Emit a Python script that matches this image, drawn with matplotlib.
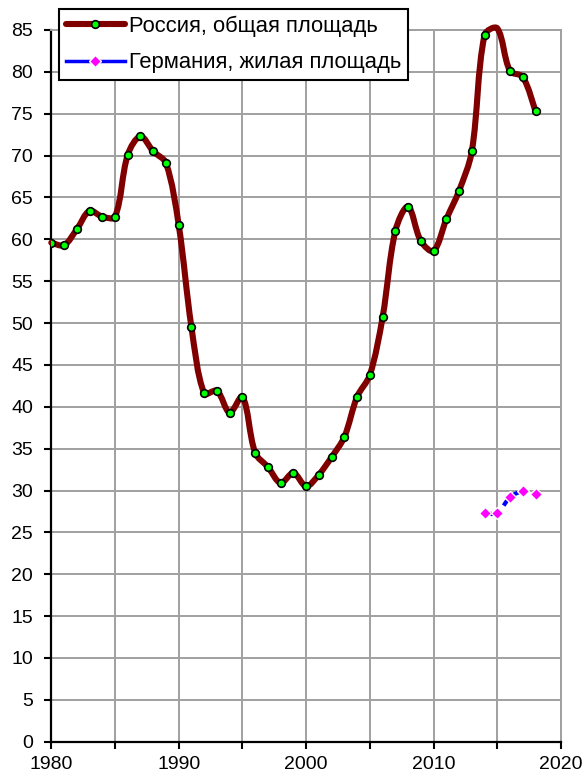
import numpy as np
import matplotlib.pyplot as plt
from matplotlib.path import Path
from matplotlib.patches import PathPatch
from matplotlib.lines import Line2D
from matplotlib.ticker import MultipleLocator

plt.rcParams['font.family'] = ['Liberation Sans', 'DejaVu Sans']

# ---- data ----
ru_years = list(range(1980, 2019))
ru_values = [59.6, 59.3, 61.2, 63.4, 62.7, 62.7, 70.1, 72.3, 70.5, 69.1,
             61.7, 49.5, 41.6, 41.9, 39.3, 41.2, 34.5, 32.8, 30.9, 32.1,
             30.5, 31.9, 34.0, 36.4, 41.2, 43.8, 50.7, 61.0, 63.9, 59.8,
             58.6, 62.4, 65.8, 70.5, 84.4, 85.2, 80.1, 79.4, 75.3]

de_years = [2014, 2015, 2016, 2017, 2018]
de_values = [27.3, 27.3, 29.2, 29.9, 29.6]

ru_label = "Россия, общая площадь"
de_label = "Германия, жилая площадь"

x_ticks = [1980, 1990, 2000, 2010, 2020]
y_ticks = list(range(0, 90, 5))


def smooth_path(ax, x, y):
    # smoothed line like Excel: Bezier handles scaled by neighbouring segment lengths on screen
    pts = np.column_stack([np.asarray(x, float), np.asarray(y, float)])
    scr = ax.transData.transform(pts)
    n = len(pts)
    d = np.hypot(*np.diff(scr, axis=0).T)
    verts = [pts[0]]
    codes = [Path.MOVETO]
    for i in range(n - 1):
        p0 = pts[max(i - 1, 0)]
        p1 = pts[i]
        p2 = pts[i + 1]
        p3 = pts[min(i + 2, n - 1)]
        d01 = d[i - 1] if i > 0 else d[i]
        d12 = d[i]
        d23 = d[i + 1] if i + 1 < n - 1 else d[i]
        c1 = p1 + (p2 - p0) * d12 / (d01 + d12) / 3
        c2 = p2 - (p3 - p1) * d12 / (d12 + d23) / 3
        verts += [c1, c2, p2]
        codes += [Path.CURVE4] * 3
    return Path(verts, codes)


fig = plt.figure(figsize=(5.85, 7.78), dpi=100)
ax = fig.add_axes([51.3 / 585, 1 - 741.7 / 778, (561 - 51.3) / 585, (741.7 - 30) / 778])

ax.set_xlim(1980, 2020)
ax.set_ylim(0, 85)
ax.xaxis.set_major_locator(MultipleLocator(10))
ax.xaxis.set_minor_locator(MultipleLocator(5))
ax.set_yticks(y_ticks)
ax.set_xticks(x_ticks)

grid_col = '#a0a0a0'
ax.grid(True, which='both', color=grid_col, linewidth=1.4, zorder=0)
ax.set_axisbelow(True)
for s in ['top', 'right']:
    ax.spines[s].set_color(grid_col)
    ax.spines[s].set_linewidth(1.4)
for s in ['left', 'bottom']:
    ax.spines[s].set_color('black')
    ax.spines[s].set_linewidth(1.6)
ax.tick_params(which='both', direction='out', length=5, width=1.5, colors='black')
ax.tick_params(axis='both', labelsize=14)
ax.tick_params(axis='y', pad=8)
ax.tick_params(axis='x', pad=5)

# Russia (markers above the axis max are not drawn)
ru_col = '#800000'
ax.add_patch(PathPatch(smooth_path(ax, ru_years, ru_values), fill=False, edgecolor=ru_col,
                       linewidth=4.4, capstyle='round', joinstyle='round',
                       transform=ax.transData, clip_on=False, zorder=3))
ru_marks = np.ma.masked_greater(np.array(ru_values), 85)
ax.plot(ru_years, ru_marks, linestyle='none', marker='o', markersize=5.5,
        markerfacecolor='#00ff00', markeredgecolor='black', markeredgewidth=1.2, zorder=4)

# Germany
de_col = '#0000ff'
ax.add_patch(PathPatch(smooth_path(ax, de_years, de_values), fill=False, edgecolor=de_col,
                       linewidth=3.0, linestyle=(0, (4, 1.5, 1.5, 1.5)),
                       transform=ax.transData, zorder=3))
ax.plot(de_years, de_values, linestyle='none', marker='D', markersize=6.5,
        markerfacecolor='#ff00ff', markeredgecolor='white', markeredgewidth=1.0, zorder=4)

handles = [
    Line2D([], [], color=ru_col, linewidth=4.4, solid_capstyle='round', marker='o',
           markersize=5.5, markerfacecolor='#00ff00', markeredgecolor='black', markeredgewidth=1.2),
    Line2D([], [], color=de_col, linewidth=2.5, marker='D', markersize=6,
           markerfacecolor='#ff00ff', markeredgecolor='white', markeredgewidth=1.0),
]
leg = fig.legend(handles, [ru_label, de_label], loc='upper left',
                 bbox_to_anchor=(59 / 585, 1 - 9 / 778), borderaxespad=0,
                 fontsize=15.8, handlelength=2.7, handletextpad=0.2,
                 borderpad=0.3, labelspacing=0.7, fancybox=False,
                 framealpha=1, edgecolor='black')
leg.get_frame().set_linewidth(1.5)

fig.savefig('out.png', dpi=100)
